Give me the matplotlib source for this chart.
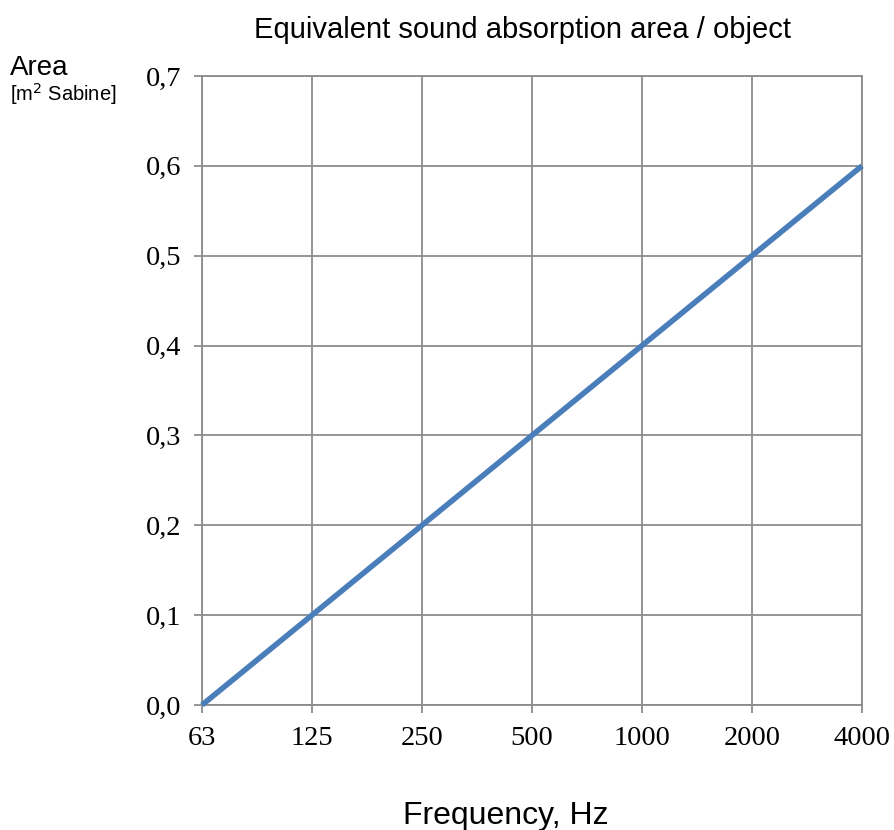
import matplotlib
matplotlib.use("Agg")
import matplotlib.pyplot as plt

frequencies = ["63", "125", "250", "500", "1000", "2000", "4000"]
area = [0.0, 0.1, 0.2, 0.3, 0.4, 0.5, 0.6]
y_ticks = [0.0, 0.1, 0.2, 0.3, 0.4, 0.5, 0.6, 0.7]
y_labels = ["0,0", "0,1", "0,2", "0,3", "0,4", "0,5", "0,6", "0,7"]

fig = plt.figure(figsize=(8.94, 8.30), dpi=100)
ax = fig.add_axes([202/894, 1-705/830, (862-202)/894, (705-76)/830])

x = list(range(len(frequencies)))
ax.plot(x, area, color="#4a7ebb", linewidth=4, solid_capstyle="butt", zorder=3, clip_on=False)

ax.set_xlim(0, len(frequencies)-1)
ax.set_ylim(0, 0.7)
ax.set_xticks(x)
ax.set_xticklabels(frequencies, family="Liberation Serif", fontsize=20.5)
ax.set_yticks(y_ticks)
ax.set_yticklabels(y_labels, family="Liberation Serif", fontsize=20.5)
ax.grid(True, color="#8c8c8c", linewidth=1.3)
for s in ax.spines.values():
    s.set_color("#8c8c8c")
    s.set_linewidth(1.3)
ax.tick_params(axis="both", length=6, width=1.3, color="#8c8c8c")
ax.tick_params(axis="x", pad=9)
ax.tick_params(axis="y", pad=9)
ax.set_axisbelow(True)

fig.text(523/894, 1-30/830, "Equivalent sound absorption area / object",
         ha="center", va="center", family="Liberation Sans", fontsize=21)
fig.text(506/894, 1-816/830, "Frequency, Hz", ha="center", va="center",
         family="Liberation Sans", fontsize=23)
fig.text(10/894, 1-68/830, "Area", ha="left", va="center", family="Liberation Sans", fontsize=20)
fig.text(10/894, 1-94/830, r"[m$^2$ Sabine]", ha="left", va="center",
         family="Liberation Sans", fontsize=14.5)

fig.savefig("out.png", dpi=100)
